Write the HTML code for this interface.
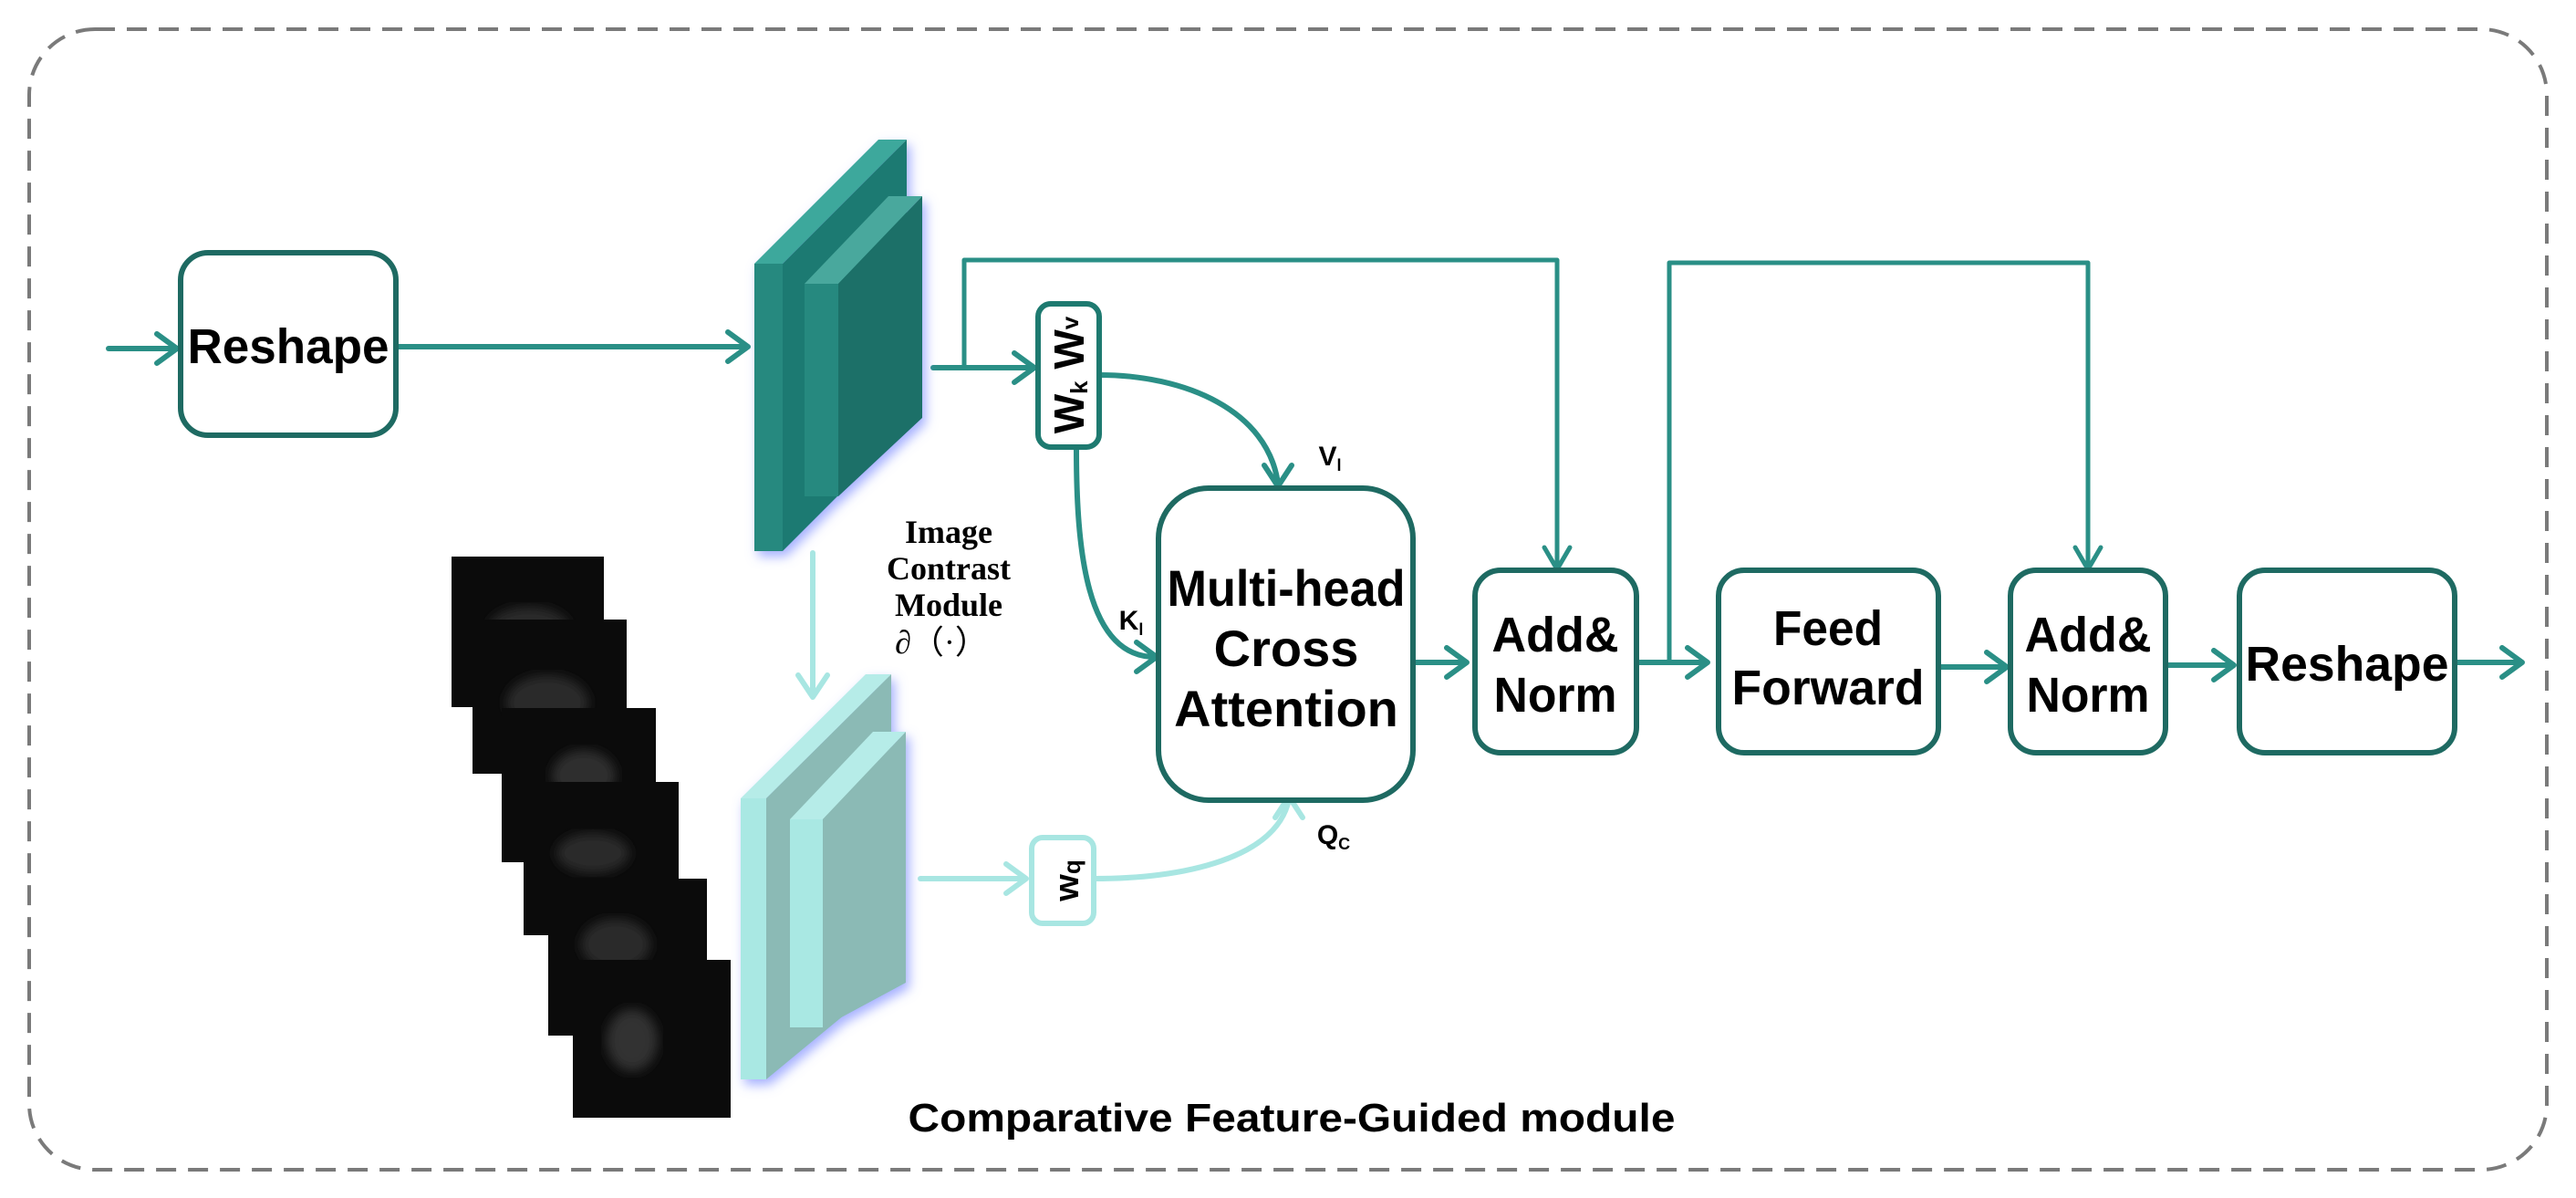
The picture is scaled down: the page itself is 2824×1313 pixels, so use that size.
<!DOCTYPE html>
<html><head><meta charset="utf-8"><style>
html,body{margin:0;padding:0;background:#fff;}
svg{display:block;}
.t{font-family:"Liberation Sans",sans-serif;font-weight:bold;fill:#000;text-anchor:middle;}
.s{font-family:"Liberation Serif",serif;font-weight:bold;fill:#000;text-anchor:middle;font-size:36px;}
</style></head><body>
<svg width="2824" height="1313" viewBox="0 0 2824 1313" xmlns="http://www.w3.org/2000/svg">
<defs>
<filter id="g" x="-20%" y="-20%" width="140%" height="140%"><feDropShadow dx="4" dy="6" stdDeviation="6" flood-color="#6a7cff" flood-opacity="0.6"/></filter>
<filter id="b"><feGaussianBlur stdDeviation="6"/></filter>
</defs>
<rect x="32" y="32" width="2760" height="1250" rx="72" fill="none" stroke="#7a7a7a" stroke-width="4" stroke-dasharray="22 13"/>

<g fill="none" stroke="#2a8f86" stroke-width="6" stroke-linecap="round" stroke-linejoin="round">
<path d="M119 382 H192"/><path d="M172 366 L194 382 L172 398"/>
<path d="M434 380 H818"/><path d="M798 364 L820 380 L798 396"/>
<path d="M1023 403 H1134"/><path d="M1112 387 L1134 403 L1112 419"/>
<path d="M1057 403 V285 H1707 V622" stroke-width="5"/><path d="M1693 600 L1707 624 L1721 600" stroke-width="5"/>
<path d="M1205 411 C1300 411 1390 450 1401 530"/><path d="M1386 510 L1401 533 L1416 510"/>
<path d="M1180 492 C1180 600 1190 720 1266 720"/><path d="M1246 704 L1268 720 L1246 736"/>
<path d="M1549 726 H1606"/><path d="M1586 710 L1608 726 L1586 742"/>
<path d="M1794 726 H1870"/><path d="M1850 710 L1872 726 L1850 742"/>
<path d="M1830 726 V288 H2289 V622" stroke-width="5"/><path d="M2275 600 L2289 624 L2303 600" stroke-width="5"/>
<path d="M2125 731 H2198"/><path d="M2178 715 L2200 731 L2178 747"/>
<path d="M2374 729 H2447"/><path d="M2427 713 L2449 729 L2427 745"/>
<path d="M2691 726 H2763"/><path d="M2743 710 L2765 726 L2743 742"/>
</g>
<g fill="none" stroke="#a8e6e2" stroke-width="6" stroke-linecap="round" stroke-linejoin="round">
<path d="M891 606 V762"/><path d="M875 740 L891 764 L907 740"/>
<path d="M1009 963 H1123"/><path d="M1103 947 L1125 963 L1103 979"/>
<path d="M1199 963 C1300 963 1400 940 1413 876"/><path d="M1398 896 L1413 873 L1428 896"/>
</g>

<g filter="url(#g)">
<polygon points="827,289 858,289 994,153 963,153" fill="#3ea89c"/>
<polygon points="858,289 994,153 994,468 858,604" fill="#1f7a72"/>
<rect x="827" y="289" width="31" height="315" fill="#26897f"/>
<polygon points="882,311 919,311 1011,215 974,215" fill="#4aa89d"/>
<polygon points="919,311 1011,215 1011,458 919,544" fill="#1d7068"/>
<rect x="882" y="311" width="37" height="233" fill="#26897f"/>
</g>
<g filter="url(#g)">
<polygon points="812,875 840,875 977,739 949,739" fill="#b6ece8"/>
<polygon points="840,875 977,739 977,1070 840,1183" fill="#8bbab5"/>
<rect x="812" y="875" width="28" height="308" fill="#a9e8e3"/>
<polygon points="866,898 902,898 993,802 957,802" fill="#b6ece8"/>
<polygon points="902,898 993,802 993,1077 902,1126" fill="#8bbab5"/>
<rect x="866" y="898" width="36" height="228" fill="#a9e8e3"/>
</g>

<g>
<rect x="495" y="610" width="167" height="165" fill="#0b0b0b"/>
<ellipse cx="580" cy="690" rx="45" ry="25" fill="#2a2a2a" filter="url(#b)"/>
<rect x="518" y="679" width="169" height="169" fill="#0b0b0b"/>
<ellipse cx="600" cy="770" rx="45" ry="30" fill="#2a2a2a" filter="url(#b)"/>
<rect x="550" y="776" width="169" height="169" fill="#0b0b0b"/>
<ellipse cx="640" cy="850" rx="35" ry="28" fill="#2e2e2e" filter="url(#b)"/>
<rect x="574" y="857" width="170" height="168" fill="#0b0b0b"/>
<ellipse cx="650" cy="935" rx="40" ry="22" fill="#2a2a2a" filter="url(#b)"/>
<rect x="601" y="963" width="174" height="172" fill="#0b0b0b"/>
<ellipse cx="675" cy="1035" rx="38" ry="28" fill="#2a2a2a" filter="url(#b)"/>
<rect x="628" y="1052" width="173" height="173" fill="#0b0b0b"/>
<ellipse cx="693" cy="1140" rx="28" ry="34" fill="#333" filter="url(#b)"/>
</g>

<g fill="#fff" stroke="#1e6a62" stroke-width="6">
<rect x="198" y="277" width="236" height="200" rx="30"/>
<rect x="1270" y="535" width="279" height="342" rx="55"/>
<rect x="1617" y="625" width="177" height="200" rx="28"/>
<rect x="1884" y="625" width="241" height="200" rx="28"/>
<rect x="2204" y="625" width="170" height="200" rx="28"/>
<rect x="2455" y="625" width="236" height="200" rx="28"/>
<rect x="1138" y="333" width="67" height="157" rx="14" stroke="#1e7a70"/>
<rect x="1131" y="918" width="68" height="94" rx="12" stroke="#a8e6e2"/>
</g>

<text class="t" x="316" y="398" font-size="54" textLength="221" lengthAdjust="spacingAndGlyphs">Reshape</text>
<text class="t" font-size="56"><tspan x="1410" y="664" textLength="261" lengthAdjust="spacingAndGlyphs">Multi-head</tspan><tspan x="1410" y="730">Cross</tspan><tspan x="1410" y="796">Attention</tspan></text>
<text class="t" font-size="54"><tspan x="1705" y="714" textLength="139" lengthAdjust="spacingAndGlyphs">Add&amp;</tspan><tspan x="1705" y="780" textLength="135" lengthAdjust="spacingAndGlyphs">Norm</tspan></text>
<text class="t" font-size="54"><tspan x="2004" y="707" textLength="120" lengthAdjust="spacingAndGlyphs">Feed</tspan><tspan x="2004" y="772" textLength="211" lengthAdjust="spacingAndGlyphs">Forward</tspan></text>
<text class="t" font-size="54"><tspan x="2289" y="714" textLength="139" lengthAdjust="spacingAndGlyphs">Add&amp;</tspan><tspan x="2289" y="780" textLength="135" lengthAdjust="spacingAndGlyphs">Norm</tspan></text>
<text class="t" x="2573" y="746" font-size="54" textLength="223" lengthAdjust="spacingAndGlyphs">Reshape</text>
<text class="t" font-size="46" transform="translate(1188,411) rotate(-90)" x="0" y="0">W<tspan font-size="26" dy="4">k</tspan><tspan dy="-4"> W</tspan><tspan font-size="26" dy="-6">v</tspan></text>
<text class="t" font-size="38" transform="translate(1182,965) rotate(-90)" x="0" y="0">w<tspan font-size="26" dy="2">q</tspan></text>
<text class="t" x="1458" y="510" font-size="30">V<tspan font-size="18" dy="6">l</tspan></text>
<text class="t" x="1240" y="690" font-size="30">K<tspan font-size="18" dy="6">l</tspan></text>
<text class="t" x="1462" y="925" font-size="30">Q<tspan font-size="18" dy="6">C</tspan></text>
<text class="s"><tspan x="1040" y="595">Image</tspan><tspan x="1040" y="635">Contrast</tspan><tspan x="1040" y="675">Module</tspan><tspan x="1032" y="716" font-weight="normal">∂（·）</tspan></text>
<text x="1416" y="1240" font-family="Liberation Sans, sans-serif" font-weight="bold" font-size="44" text-anchor="middle" textLength="841" lengthAdjust="spacingAndGlyphs">Comparative Feature-Guided module</text>
</svg>
</body></html>
